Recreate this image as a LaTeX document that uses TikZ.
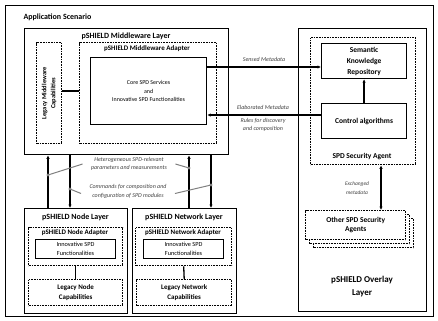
\documentclass[tikz,border=0pt]{standalone}
\usepackage{fontspec}
\setmainfont{Carlito}
\usetikzlibrary{arrows.meta}
\definecolor{notegray}{HTML}{404040}
\definecolor{ptrgray}{HTML}{808080}

\tikzset{
  box/.style={draw, line width=1.2bp, inner sep=0pt, anchor=north west},
  thickbox/.style={box, line width=1.4bp},
  dotbox/.style={box, line width=1.4bp, dash pattern=on 0.9bp off 0.7bp},
  ttlA/.style={font=\fontsize{8}{9.6}\selectfont\bfseries},
  ttlB/.style={font=\fontsize{7}{8.4}\selectfont\bfseries},
  ttlC/.style={font=\fontsize{7.5}{11}\selectfont\bfseries, align=center},
  body/.style={font=\fontsize{6}{8.5}\selectfont, align=center},
  note/.style={font=\fontsize{6}{8.3}\selectfont\itshape, text=notegray, align=center},
  link/.style={line width=1.3bp},
  arr/.style={link, -{Latex[length=3.5bp,width=3.5bp]}},
  dblarr/.style={link, {Latex[length=3.5bp,width=3.5bp]}-{Latex[length=3.5bp,width=3.5bp]}},
  ptr/.style={draw=ptrgray, line width=1bp},
  ptrdot/.style={fill=ptrgray}
}

\begin{document}
\begin{tikzpicture}[x=1bp,y=-1bp]
  \useasboundingbox (0,0) rectangle (438,320);
  % scenario frame
  \node[thickbox, minimum width=428bp, minimum height=311bp] (scen) at (5,5) {};
  \node[ttlA, anchor=west] (scent) at (20,17) {Application Scenario};

  % middleware layer
  \node[thickbox, minimum width=204bp, minimum height=126bp] (mwl) at (24,28) {};
  \node[ttlA] (mwlt) at (126,36) {pSHIELD Middleware Layer};
  \node[dotbox, minimum width=25bp, minimum height=101bp] (mwleg) at (36,42) {};
  \node[font=\fontsize{6.5}{9}\selectfont\bfseries, align=center, rotate=90] (mwlegt) at (mwleg.center) {Legacy Middleware\\Capabilities};
  \node[dotbox, minimum width=137bp, minimum height=101bp] (mwad) at (79,42) {};
  \node[ttlB] (mwadt) at (147,49) {pSHIELD Middleware Adapter};
  \node[box, minimum width=116bp, minimum height=67bp] (core) at (90,57) {};
  \node[body] (coret) at (core.center) {Core SPD Services\\and\\Innovative SPD Functionalities};
  \draw[link] (mwleg.east |- coret) -- (mwad.west |- coret);

  % node layer
  \node[thickbox, minimum width=103bp, minimum height=105bp] (nodel) at (24,208) {};
  \node[ttlA] (nodelt) at (75.5,217) {pSHIELD Node Layer};
  \node[dotbox, minimum width=94bp, minimum height=38bp] (nodead) at (28,227) {};
  \node[ttlB] (nodeadt) at (75,233) {pSHIELD Node Adapter};
  \node[box, line width=1bp, minimum width=80bp, minimum height=19bp] (nodeinn) at (35,239) {};
  \node[body, font=\fontsize{6.3}{8.5}\selectfont] (nodeinnt) at (nodeinn.center) {Innovative SPD\\Functionalities};
  \node[dotbox, minimum width=94bp, minimum height=26bp] (nodeleg) at (28,279) {};
  \node[ttlB, align=center, font=\fontsize{7}{10}\selectfont\bfseries] (nodelegt) at (nodeleg.center) {Legacy Node\\Capabilities};
  \draw[link] (nodead.south) -- (nodeleg.north);

  % network layer
  \node[thickbox, minimum width=104bp, minimum height=105bp] (netl) at (132,208) {};
  \node[ttlA] (netlt) at (184,217) {pSHIELD Network Layer};
  \node[dotbox, minimum width=96bp, minimum height=38bp] (netad) at (135,227) {};
  \node[ttlB] (netadt) at (183,233) {pSHIELD Network Adapter};
  \node[box, line width=1bp, minimum width=80bp, minimum height=19bp] (netinn) at (143,239) {};
  \node[body, font=\fontsize{6.3}{8.5}\selectfont] (netinnt) at (netinn.center) {Innovative SPD\\Functionalities};
  \node[dotbox, minimum width=95bp, minimum height=26bp] (netleg) at (136,279) {};
  \node[ttlB, align=center, font=\fontsize{7}{10}\selectfont\bfseries] (netlegt) at (netleg.center) {Legacy Network\\Capabilities};
  \draw[link] (netad.south) -- (netleg.north);

  % overlay layer
  \node[thickbox, minimum width=128bp, minimum height=283bp] (ovl) at (298,28) {};
  \node[font=\fontsize{9}{13}\selectfont\bfseries, align=center] (ovlt) at (362,287) {pSHIELD Overlay\\Layer};
  \node[dotbox, minimum width=105bp, minimum height=127bp] (agent) at (310,37) {};
  \node[ttlC] (agentt) at (362,157) {SPD Security Agent};
  \node[box, minimum width=85bp, minimum height=35bp] (skr) at (321,43) {};
  \node[ttlC] (skrt) at (skr.center) {Semantic\\Knowledge\\Repository};
  \node[box, minimum width=85bp, minimum height=35bp] (ctrl) at (321,103) {};
  \node[ttlC] (ctrlt) at (ctrl.center) {Control algorithms};
  \draw[arr] (ctrl.north) -- (skr.south);
  \node[dotbox, fill=white, minimum width=100bp, minimum height=29bp] (others3) at (313,218) {};
  \node[dotbox, fill=white, minimum width=100bp, minimum height=29bp] (others2) at (309,214) {};
  \node[dotbox, fill=white, minimum width=100bp, minimum height=29bp] (others) at (305,210) {};
  \node[ttlC, font=\fontsize{7.5}{9.5}\selectfont\bfseries] (otherst) at (others.center) {Other SPD Security\\Agents};
  \coordinate (xa) at (381,0);
  \draw[dblarr] (agent.south -| xa) -- (others.north -| xa);
  \node[note, font=\fontsize{5.5}{8.5}\selectfont\itshape] (exch) at (357,188) {Exchanged\\metadata};

  % metadata between middleware and agent
  \draw[arr] (core.north east) ++(0,10) coordinate (sm) -- (sm -| skr.west);
  \node[note] (smt) at (264,59) {Sensed Metadata};
  \draw[arr] (ctrl.north west) ++(0,12) coordinate (em) -- (em -| core.east);
  \node[note] (emt) at (263,107) {Elaborated Metadata};
  \node[note] (rdc) at (263,125) {Rules for discovery\\and composition};

  % middleware <-> node / network
  \coordinate (v1) at (48,0);
  \coordinate (v2) at (70,0);
  \coordinate (v3) at (189,0);
  \coordinate (v4) at (211,0);
  \draw[arr] (nodel.north -| v1) -- (mwl.south -| v1);
  \draw[arr] (mwl.south -| v2) -- (nodel.north -| v2);
  \draw[arr] (netl.north -| v3) -- (mwl.south -| v3);
  \draw[arr] (mwl.south -| v4) -- (netl.north -| v4);
  \node[note] (hetero) at (129,164) {Heterogeneous SPD-relevant\\parameters and measurements};
  \node[note] (cmd) at (128,191.5) {Commands for composition and\\configuration of SPD modules};
  \coordinate (p1) at (48,175);
  \coordinate (p2) at (189,168);
  \coordinate (p3) at (70,189);
  \coordinate (p4) at (211,185);
  \draw[ptr] (p1) -- ([xshift=-5bp]hetero.west);
  \draw[ptr] (p2) -- ([xshift=5bp]hetero.east);
  \draw[ptr] (p3) -- ([shift={(-5,2)}]cmd.west);
  \draw[ptr] (p4) -- ([shift={(5,2)}]cmd.east);
  \foreach \p in {p1,p2,p3,p4}
    \fill[ptrdot] (\p) circle (1.7bp);
\end{tikzpicture}
\end{document}
